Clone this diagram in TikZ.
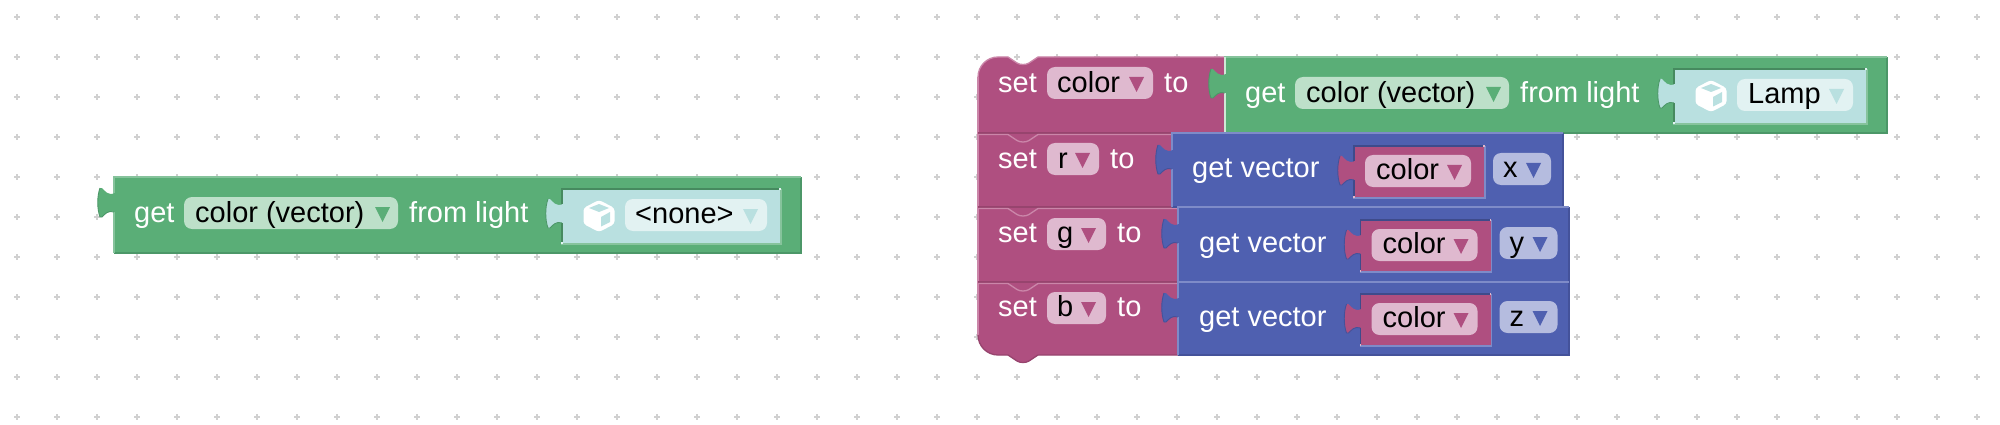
\documentclass[tikz,border=0pt]{standalone}
\usepackage{fontspec}
\setmainfont{Liberation Sans}
\definecolor{gr}{HTML}{5AAE77}\definecolor{grL}{HTML}{86C39C}\definecolor{grD}{HTML}{4C9768}\definecolor{grS}{HTML}{468A5F}\definecolor{grF}{HTML}{BDE0C9}
\definecolor{pk}{HTML}{AF4F80}\definecolor{pkL}{HTML}{CB86A9}\definecolor{pkD}{HTML}{97446E}\definecolor{pkF}{HTML}{DFB9CF}
\definecolor{bl}{HTML}{4F60B0}\definecolor{blL}{HTML}{7E8BC8}\definecolor{blD}{HTML}{44529A}\definecolor{blS}{HTML}{3E4B8B}\definecolor{blF}{HTML}{B5BCDF}
\definecolor{cy}{HTML}{B9E0E0}\definecolor{cyF}{HTML}{E2F2F2}\definecolor{gridc}{HTML}{D0D0D0}
\tikzset{
 lightlbl/.style={anchor=base west,inner sep=0pt,text=white,font=\fontsize{29}{29}\selectfont},
 darklbl/.style={anchor=base west,inner sep=0pt,text=black,font=\fontsize{29}{29}\selectfont},
 bevel/.style={line width=1.3pt,line cap=butt},
 fieldbox/.style={rounded corners=8pt},
}
\newcommand{\bkrect}[7]{%
 \fill[#5] (#1,#2) rectangle (#3,#4);
 \draw[bevel,#7] (#1,#4) -- (#3,#4) -- (#3,#2);
 \draw[bevel,#6] (#1,#4) -- (#1,#2) -- (#3,#2);
}
\newcommand{\vtab}[4]{%
 \fill[#3] (#1+1,#2+5) .. controls (#1-6,#2+8) and (#1-9,#2+3) .. (#1-12,#2) -- (#1-14,#2)
   .. controls (#1-17,#2+8) and (#1-17,#2+21) .. (#1-14,#2+29) -- (#1-12,#2+29)
   .. controls (#1-9,#2+26) and (#1-6,#2+22) .. (#1+1,#2+24) -- cycle;
 \draw[line width=0.9pt,#4] (#1-14,#2) .. controls (#1-17,#2+8) and (#1-17,#2+21) .. (#1-14,#2+29)
   -- (#1-12,#2+29) .. controls (#1-9,#2+26) and (#1-6,#2+22) .. (#1,#2+24);
}
\newcommand{\sock}[7]{%
 \fill[#5] (#1,#2) rectangle (#3,#4);
 \draw[bevel,#6] (#1,#4) -- (#1,#2) -- (#3,#2);
 \draw[bevel,#7] (#1-1,#4+1) -- (#3+1,#4+1) -- (#3+1,#2);
 \fill[white!60!#5] (#3-0.6,#2-0.6) rectangle (#3+0.8,#2+0.8);
 \fill[white!60!#5] (#1-0.8,#4-0.8) rectangle (#1+0.6,#4+0.6);
}
\newcommand{\fld}[5]{\fill[fieldbox,#5] (#1,#2) rectangle (#3,#4);}
\newcommand{\tri}[3]{\fill[#3] (#1,#2) -- (#1+15,#2) -- (#1+7.5,#2+15) -- cycle;}
\newcommand{\cube}[3]{%
 \begin{scope}[shift={(#1,#2)}]
 \fill[white,rounded corners=3pt] (0,-16) -- (15.5,-8) -- (15.5,8) -- (0,16) -- (-15.5,8) -- (-15.5,-8) -- cycle;
 \fill[#3] (-10,-8) -- (0,-12) -- (10,-8) -- (0,-4) -- cycle;
 \fill[#3] (2,1) -- (11,-4) -- (11,6) -- (2,10.5) -- cycle;
 \end{scope}}
\newcommand{\notchline}[2]{%
 \draw[bevel,pkL] (978,#1) -- (1008,#1) -- (1017,#1+6) .. controls (1020,#1+8) and (1026,#1+8) .. (1029,#1+6) -- (1038,#1) -- (#2,#1);
}
\newcommand{\veccomp}[4]{%
 \begin{scope}[shift={(#1,#2)}]
 \sock{1354}{146}{1484}{197}{pk}{blS}{blL}
 \vtab{1354}{156}{pk}{blD}
 \fld{1365}{155}{1471}{187}{pkF}
 \node[darklbl] (#4c) at (1376,179) {color};
 \tri{1447}{165}{pk}
 \fld{1493}{153}{1551}{185}{blF}
 \node[darklbl] (#4a) at (1503,178) {#3};
 \tri{1526}{163}{bl}
 \end{scope}}
\begin{document}
\begin{tikzpicture}[x=1pt,y=-1pt]
\useasboundingbox (0,0) rectangle (2000,425);
\fill[white] (0,0) rectangle (2000,425);
% grid
\foreach \i in {0,...,49}{\foreach \j in {0,...,10}{
 \draw[gridc,line width=1.3pt] (17+\i*40-3,17+\j*40) -- (17+\i*40+3,17+\j*40) (17+\i*40,17+\j*40-3) -- (17+\i*40,17+\j*40+3);
}}
% ---------- left block
\bkrect{114}{177}{801}{253}{gr}{grL}{grD}
\vtab{114}{188}{gr}{grD}
\node[lightlbl] (g1) at (134,222) {get};
\fld{184}{197}{398}{229}{grF}
\node[darklbl] (g2) at (195,222) {color (vector)};
\tri{375}{207}{gr}
\node[lightlbl] (g3) at (409,222) {from light};
\sock{562}{189}{780}{243}{cy}{grS}{grL}
\vtab{562}{199}{cy}{grD}
\cube{599}{216}{cy}
\fld{625}{199}{767}{231}{cyF}
\node[darklbl] (g4) at (635,223) {<none>};
\tri{743}{209}{cy}
% ---------- set stack (pink)
\fill[pk] (998,57) -- (1008,57) -- (1017,63) .. controls (1020,65) and (1026,65) .. (1029,63) -- (1038,57)
  -- (1225,57) -- (1225,133) -- (1178,133) -- (1178,355) -- (1038,355)
  -- (1029,361) .. controls (1026,363) and (1020,363) .. (1017,361) -- (1008,355)
  -- (998,355) arc[start angle=90,end angle=180,radius=20] -- (978,77) arc[start angle=180,end angle=270,radius=20] -- cycle;
\draw[bevel,pkL] (978,77) arc[start angle=180,end angle=270,radius=20] -- (1008,57) -- (1017,63) .. controls (1020,65) and (1026,65) .. (1029,63) -- (1038,57) -- (1225,57);
\draw[bevel,pkL] (978,77) -- (978,335);
\draw[bevel,pkD] (978,133) -- (1225,133);
\draw[bevel,pkD] (978,207) -- (1172,207);
\draw[bevel,pkD] (978,282) -- (1178,282);
\notchline{134.5}{1172}
\notchline{208.5}{1178}
\notchline{283.5}{1178}
\draw[bevel,pkD] (978,335) arc[start angle=180,end angle=90,radius=20] -- (1008,355) -- (1017,361) .. controls (1020,363) and (1026,363) .. (1029,361) -- (1038,355) -- (1178,355);
% ---------- top-right getter
\bkrect{1225}{57}{1887}{133}{gr}{grL}{grD}
\draw[bevel,white!70!gr] (1225,57) -- (1225,134);
\vtab{1225}{69}{gr}{grD}
\node[lightlbl] (t1) at (1245,103) {get};
\fld{1295}{77}{1509}{109}{grF}
\node[darklbl] (t2) at (1306,103) {color (vector)};
\tri{1486}{87}{gr}
\node[lightlbl] (t3) at (1520,103) {from light};
\sock{1674}{69}{1866}{123}{cy}{grS}{grL}
\vtab{1674}{79}{cy}{grD}
\cube{1711}{96}{cy}
\fld{1737}{79}{1853}{111}{cyF}
\node[darklbl] (t4) at (1748,104) {Lamp};
\tri{1829}{89}{cy}
% ---------- blue rows
\bkrect{1172}{133}{1563}{207}{bl}{blL}{blD}
\bkrect{1178}{207}{1569}{282}{bl}{blL}{blD}
\bkrect{1178}{282}{1569}{355}{bl}{blL}{blD}
\vtab{1172}{145}{bl}{blD}
\vtab{1178}{219}{bl}{blD}
\vtab{1178}{293}{bl}{blD}
\node[lightlbl] (v1) at (1192,178) {get vector};
\node[lightlbl] (v2) at (1199,252) {get vector};
\node[lightlbl] (v3) at (1199,326) {get vector};
\veccomp{0}{0}{x}{vx}
\veccomp{6.5}{74}{y}{vy}
\veccomp{6.5}{148}{z}{vz}
% ---------- set-row labels
\node[lightlbl] (s1) at (998,93) {set};
\fld{1047}{67}{1153}{99}{pkF}
\node[darklbl] (s2) at (1057,93) {color};
\tri{1129}{77}{pk}
\node[lightlbl] (s3) at (1164,93) {to};
\node[lightlbl] (r1) at (998,168) {set};
\fld{1047}{143}{1099}{175}{pkF}
\node[darklbl] (r2) at (1058,168) {r};
\tri{1075}{153}{pk}
\node[lightlbl] (r3) at (1110,168) {to};
\node[lightlbl] (a1) at (998,242) {set};
\fld{1047}{218}{1106}{250}{pkF}
\node[darklbl] (a2) at (1057,242) {g};
\tri{1081}{228}{pk}
\node[lightlbl] (a3) at (1117,242) {to};
\node[lightlbl] (b1) at (998,316) {set};
\fld{1047}{292}{1106}{324}{pkF}
\node[darklbl] (b2) at (1057,316) {b};
\tri{1081}{302}{pk}
\node[lightlbl] (b3) at (1117,316) {to};
\end{tikzpicture}
\end{document}
